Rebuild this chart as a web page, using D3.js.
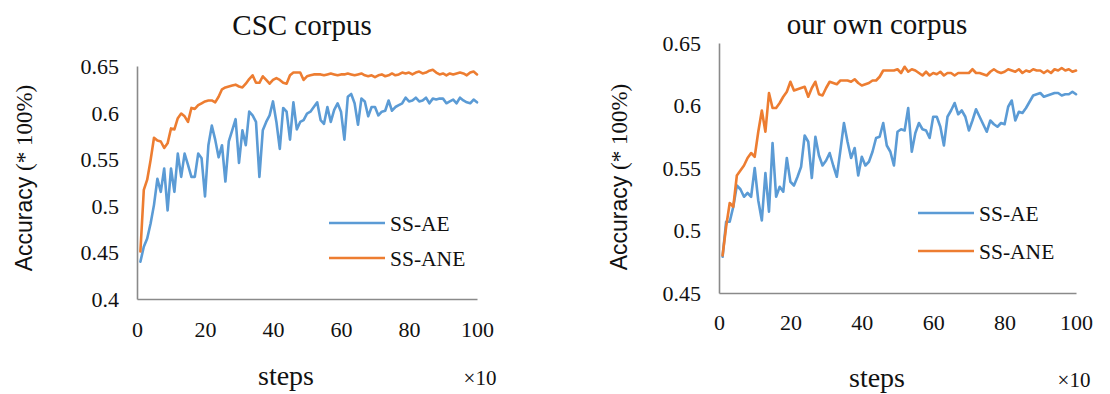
<!DOCTYPE html>
<html>
<head>
<meta charset="utf-8">
<script src="https://cdn.jsdelivr.net/npm/d3@7"></script>
<style>
  html, body { margin: 0; padding: 0; background: #fff; }
  svg { display: block; }
</style>
</head>
<body>
<svg id="chart" width="1110" height="394"></svg>
<script>
// ---------- DATA ----------
const steps = d3.range(1, 101);

const cscAE = [
  0.440,0.456,0.465,0.481,0.501,0.529,0.515,0.540,0.495,0.540,
  0.515,0.556,0.531,0.556,0.544,0.531,0.531,0.556,0.551,0.510,
  0.565,0.586,0.571,0.552,0.565,0.526,0.569,0.581,0.593,0.546,
  0.581,0.565,0.601,0.597,0.590,0.531,0.581,0.590,0.597,0.612,
  0.590,0.561,0.605,0.601,0.571,0.611,0.582,0.590,0.592,0.599,
  0.601,0.606,0.611,0.592,0.588,0.606,0.590,0.603,0.610,0.601,
  0.571,0.617,0.620,0.610,0.587,0.615,0.612,0.596,0.606,0.606,
  0.597,0.601,0.602,0.613,0.602,0.606,0.608,0.610,0.616,0.612,
  0.613,0.616,0.612,0.613,0.616,0.610,0.615,0.614,0.615,0.615,
  0.610,0.612,0.614,0.610,0.616,0.613,0.611,0.610,0.614,0.611
];
const cscANE = [
  0.451,0.517,0.528,0.549,0.573,0.570,0.569,0.562,0.567,0.583,
  0.582,0.594,0.599,0.596,0.590,0.605,0.604,0.608,0.610,0.612,
  0.613,0.613,0.611,0.617,0.625,0.627,0.628,0.629,0.630,0.628,
  0.627,0.631,0.636,0.640,0.632,0.632,0.639,0.635,0.631,0.635,
  0.637,0.635,0.632,0.631,0.640,0.643,0.643,0.643,0.635,0.639,
  0.640,0.641,0.641,0.641,0.640,0.641,0.642,0.641,0.640,0.641,
  0.641,0.642,0.641,0.640,0.641,0.642,0.640,0.639,0.640,0.638,
  0.640,0.641,0.639,0.640,0.642,0.640,0.641,0.643,0.642,0.643,
  0.641,0.643,0.644,0.642,0.643,0.645,0.646,0.643,0.641,0.642,
  0.640,0.642,0.641,0.642,0.643,0.642,0.640,0.643,0.644,0.641
];
const ownAE = [
  0.479,0.507,0.507,0.519,0.536,0.533,0.527,0.530,0.527,0.550,
  0.524,0.508,0.546,0.515,0.570,0.527,0.535,0.531,0.558,0.539,
  0.536,0.543,0.551,0.576,0.571,0.542,0.575,0.560,0.552,0.556,
  0.562,0.552,0.543,0.564,0.586,0.571,0.558,0.566,0.544,0.559,
  0.552,0.555,0.563,0.574,0.575,0.586,0.568,0.563,0.552,0.579,
  0.581,0.580,0.598,0.563,0.578,0.586,0.581,0.580,0.574,0.591,
  0.591,0.583,0.568,0.591,0.596,0.602,0.593,0.596,0.591,0.580,
  0.588,0.597,0.591,0.585,0.579,0.588,0.585,0.583,0.586,0.585,
  0.599,0.604,0.588,0.595,0.594,0.598,0.603,0.608,0.609,0.610,
  0.607,0.608,0.609,0.610,0.610,0.608,0.609,0.609,0.611,0.609
];
const ownANE = [
  0.480,0.503,0.522,0.519,0.544,0.548,0.552,0.558,0.562,0.559,
  0.579,0.596,0.579,0.610,0.598,0.598,0.602,0.607,0.611,0.619,
  0.612,0.613,0.614,0.615,0.607,0.614,0.619,0.609,0.608,0.614,
  0.619,0.618,0.617,0.620,0.620,0.620,0.619,0.621,0.618,0.616,
  0.617,0.618,0.620,0.620,0.623,0.628,0.628,0.628,0.628,0.629,
  0.626,0.631,0.627,0.629,0.628,0.626,0.624,0.627,0.624,0.626,
  0.625,0.627,0.624,0.626,0.626,0.624,0.626,0.626,0.626,0.626,
  0.629,0.626,0.626,0.625,0.624,0.627,0.629,0.627,0.626,0.627,
  0.629,0.628,0.627,0.629,0.626,0.628,0.627,0.629,0.628,0.628,
  0.626,0.628,0.626,0.629,0.628,0.630,0.628,0.629,0.627,0.628
];

const xTicks = [0, 20, 40, 60, 80, 100];
const yTicksCSC = [0.4, 0.45, 0.5, 0.55, 0.6, 0.65];
const yTicksOwn = [0.45, 0.5, 0.55, 0.6, 0.65];
const seriesNames = ["SS-AE", "SS-ANE"];
const titles = ["CSC corpus", "our own corpus"];
const yLabelMain = "Accuracy";
const yLabelUnit = " (* 100%)";
const xLabel = "steps";
const xUnit = "×10";

// ---------- STYLE ----------
const colors = ["#5B9BD5", "#ED7D31"];
const serif = "'Liberation Serif', 'Times New Roman', serif";
const sans = "'Liberation Sans', Arial, sans-serif";
const axisColor = "#8a8a8a";

const svg = d3.select("#chart");

const panels = [
  {
    data: [cscAE, cscANE], yDomain: [0.4, 0.65], yTicks: yTicksCSC, title: titles[0],
    x0: 137, x1: 477, yTop: 66, yBot: 299,
    titleX: 302, titleY: 35,
    yLabX: 32, yLabY: 178,
    xTickY: 337, stepsX: 286, stepsY: 385, unitX: 480,
    legX: 329, legY: [223, 258]
  },
  {
    data: [ownAE, ownANE], yDomain: [0.45, 0.65], yTicks: yTicksOwn, title: titles[1],
    x0: 719, x1: 1076, yTop: 43, yBot: 293,
    titleX: 877, titleY: 34,
    yLabX: 627, yLabY: 177,
    xTickY: 330, stepsX: 877, stepsY: 387, unitX: 1074,
    legX: 918, legY: [213, 251]
  }
];

const fmt = v => String(+v.toFixed(2));

panels.forEach(p => {
  const g = svg.append("g");
  const x = d3.scaleLinear().domain([0, 100]).range([p.x0, p.x1]);
  const y = d3.scaleLinear().domain(p.yDomain).range([p.yBot, p.yTop]);

  // y axis
  const ya = g.append("g").attr("transform", `translate(${p.x0},0)`)
    .call(d3.axisLeft(y).tickValues(p.yTicks).tickSize(0).tickPadding(18).tickFormat(fmt));
  ya.select(".domain").attr("stroke", axisColor).attr("stroke-width", 1.6);
  ya.selectAll("text").attr("font-family", serif).attr("font-size", 22).attr("fill", "#111")
    .attr("dy", "0.34em");

  // x axis
  const xa = g.append("g").attr("transform", `translate(0,${p.yBot})`)
    .call(d3.axisBottom(x).tickValues(xTicks).tickSize(0).tickPadding(0).tickFormat(d3.format("d")));
  xa.select(".domain").attr("stroke", axisColor).attr("stroke-width", 1.6);
  xa.selectAll("text").attr("font-family", serif).attr("font-size", 22).attr("fill", "#111")
    .attr("dy", null).attr("y", p.xTickY - p.yBot);

  // lines
  const line = d3.line().x((d, i) => x(steps[i])).y(d => y(d));
  p.data.forEach((s, k) => {
    g.append("path").datum(s)
      .attr("fill", "none").attr("stroke", colors[k]).attr("stroke-width", 2.6)
      .attr("stroke-linejoin", "round").attr("stroke-linecap", "round")
      .attr("d", line);
  });

  // legend
  seriesNames.forEach((name, k) => {
    g.append("line").attr("x1", p.legX).attr("x2", p.legX + 56)
      .attr("y1", p.legY[k]).attr("y2", p.legY[k])
      .attr("stroke", colors[k]).attr("stroke-width", 2.6);
    g.append("text").attr("x", p.legX + 61).attr("y", p.legY[k] + 8)
      .attr("font-family", serif).attr("font-size", 21.5).attr("fill", "#111")
      .text(name);
  });

  // title
  g.append("text").attr("x", p.titleX).attr("y", p.titleY).attr("text-anchor", "middle")
    .attr("font-family", serif).attr("font-size", 29).attr("fill", "#111").text(p.title);

  // y label
  const yl = g.append("text").attr("transform", `translate(${p.yLabX},${p.yLabY}) rotate(-90)`)
    .attr("text-anchor", "middle").attr("fill", "#111");
  yl.append("tspan").attr("font-family", sans).attr("font-size", 23).text(yLabelMain);
  yl.append("tspan").attr("font-family", serif).attr("font-size", 23).text(yLabelUnit);

  // x label
  g.append("text").attr("x", p.stepsX).attr("y", p.stepsY).attr("text-anchor", "middle")
    .attr("font-family", serif).attr("font-size", 28).attr("fill", "#111").text(xLabel);
  g.append("text").attr("x", p.unitX).attr("y", p.stepsY).attr("text-anchor", "middle")
    .attr("font-family", serif).attr("font-size", 21).attr("fill", "#111").text(xUnit);
});
</script>
</body>
</html>
